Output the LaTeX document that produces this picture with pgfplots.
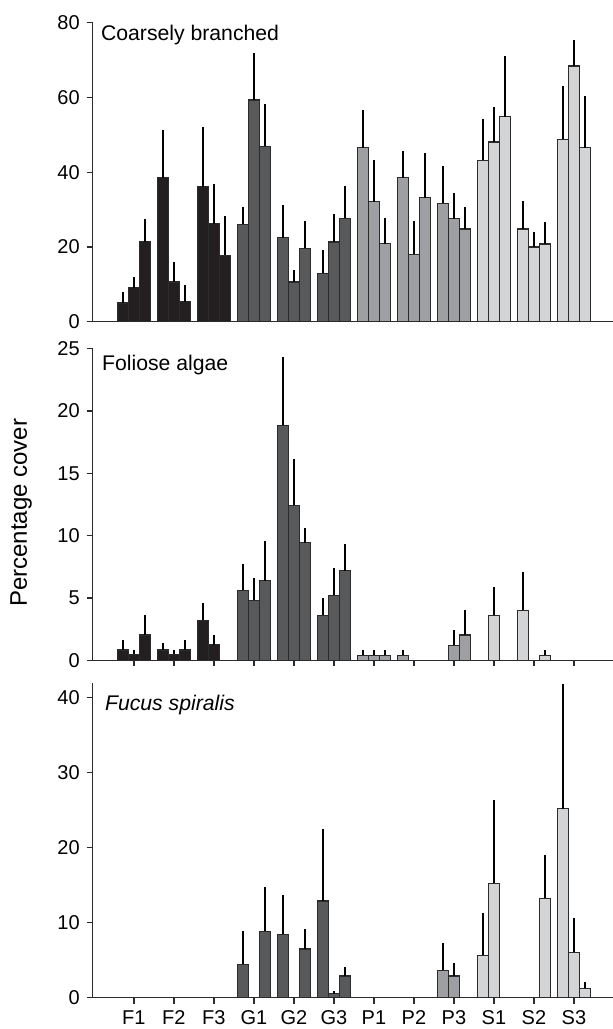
\documentclass[border=0pt]{standalone}
\usepackage{fontspec}
\setmainfont{Liberation Sans}
\usepackage{pgfplots}
\pgfplotsset{compat=1.18}
\usepackage{pgfplotstable}

\definecolor{cF}{HTML}{231F20}
\definecolor{cG}{HTML}{58595B}
\definecolor{cP}{HTML}{9D9FA2}
\definecolor{cS}{HTML}{D3D4D5}
\definecolor{axc}{HTML}{2B2B2B}

% Coarsely branched
\pgfplotstableread{
x a ea b eb c ec
0 5.0 2.9 9.1 2.8 21.4 6.0
1 38.5 12.9 10.6 5.5 5.4 4.3
2 36.1 16.0 26.2 10.6 17.8 10.4
3 26.1 4.7 59.3 12.7 46.9 11.3
4 22.5 8.8 10.6 3.2 19.6 7.4
5 12.9 6.2 21.3 7.6 27.7 8.5
6 46.5 10.2 32.1 11.2 20.9 6.8
7 38.5 7.2 18.0 9.0 33.2 12.0
8 31.7 10.0 27.6 6.7 24.8 6.0
9 43.2 11.1 48.1 9.4 54.8 16.3
10 24.8 7.6 20.0 4.0 20.8 5.8
11 48.8 14.3 68.4 6.9 46.5 13.9
}\cbtab

% Foliose algae
\pgfplotstableread{
x a ea b eb c ec
0 0.83 0.80 0.48 0.35 2.03 1.57
1 0.83 0.53 0.48 0.35 0.83 0.80
2 3.20 1.37 1.26 0.80 nan nan
3 5.60 2.10 4.80 1.80 6.40 3.17
4 18.85 5.45 12.43 3.72 9.44 1.16
5 3.60 1.37 5.20 2.18 7.20 2.10
6 0.40 0.43 0.40 0.43 0.40 0.43
7 0.40 0.43 nan nan nan nan
8 nan nan 1.20 1.23 2.03 2.01
9 nan nan 3.60 2.26 nan nan
10 4.00 3.06 nan nan 0.40 0.43
11 nan nan nan nan nan nan
}\fatab

% Fucus spiralis
\pgfplotstableread{
x a ea b eb c ec
0 nan nan nan nan nan nan
1 nan nan nan nan nan nan
2 nan nan nan nan nan nan
3 4.44 4.46 nan nan 8.84 5.96
4 8.44 5.26 nan nan 6.49 2.67
5 12.90 9.60 0.53 0.37 2.89 1.24
6 nan nan nan nan nan nan
7 nan nan nan nan nan nan
8 3.64 3.60 2.89 1.69 nan nan
9 5.64 5.60 15.24 11.12 nan nan
10 nan nan nan nan 13.24 5.76
11 25.20 16.60 6.04 4.63 1.24 0.85
}\fstab

\pgfplotsset{
  panel/.style={
    scale only axis, width=260pt, xmin=-1.03, xmax=11.97, ymin=0,
    axis x line=bottom, axis y line=left,
    axis line style={-, axc, line width=0.65pt},
    tick align=outside, major tick length=3pt,
    tick style={axc, line width=0.6pt},
    tick label style={font=\fontsize{10}{12}\selectfont},
    /pgf/number format/assume math mode=true,
    clip=false,
    unbounded coords=discard,
  },
  bs/.style={ybar, bar width=0.275, bar shift=0, draw=axc, line width=0.6pt, fill=#1,
    error bars/y dir=plus, error bars/y explicit, error bars/error mark=none,
    error bars/error bar style={line width=0.6pt, black}},
}
\tikzset{ttl/.style={anchor=north west, inner sep=0pt, font=\fontsize{10.6}{12}\selectfont}}

\newcommand\famplot[4]{%
  \addplot[bs=#2, restrict x to domain=#3:#4] table[x expr=\thisrow{x}-0.275,y=a,y error=ea]{#1};
  \addplot[bs=#2, restrict x to domain=#3:#4] table[x expr=\thisrow{x},y=b,y error=eb]{#1};
  \addplot[bs=#2, restrict x to domain=#3:#4] table[x expr=\thisrow{x}+0.275,y=c,y error=ec]{#1};
}

\begin{document}
\begin{tikzpicture}
\path[use as bounding box] (0,0) rectangle (306.5pt,514.5pt);

% Panel 1
\begin{axis}[panel, at={(46.35pt,353.65pt)}, anchor=south west,
  height=149.5pt, ymax=80, ytick={0,20,40,60,80}, xtick=\empty]
  \famplot{\cbtab}{cF}{-0.5}{2.5}
  \famplot{\cbtab}{cG}{2.5}{5.5}
  \famplot{\cbtab}{cP}{5.5}{8.5}
  \famplot{\cbtab}{cS}{8.5}{11.5}
  \node[ttl, xshift=4pt, yshift=-1pt] at (rel axis cs:0,1) {Coarsely branched};
\end{axis}

% Panel 2
\begin{axis}[panel, at={(46.35pt,184.35pt)}, anchor=south west,
  height=155.8pt, ymax=25, ytick={0,5,10,15,20,25},
  xtick={0,...,11}, xticklabels={}]
  \famplot{\fatab}{cF}{-0.5}{2.5}
  \famplot{\fatab}{cG}{2.5}{5.5}
  \famplot{\fatab}{cP}{5.5}{8.5}
  \famplot{\fatab}{cS}{8.5}{11.5}
  \node[ttl, xshift=4.5pt, yshift=-3pt] at (rel axis cs:0,1) {Foliose algae};
\end{axis}

% Panel 3
\begin{axis}[panel, at={(46.35pt,15.65pt)}, anchor=south west,
  height=157.5pt, ymax=42, ytick={0,10,20,30,40},
  xtick={0,...,11}, xticklabels={F1,F2,F3,G1,G2,G3,P1,P2,P3,S1,S2,S3}]
  \famplot{\fstab}{cF}{-0.5}{2.5}
  \famplot{\fstab}{cG}{2.5}{5.5}
  \famplot{\fstab}{cP}{5.5}{8.5}
  \famplot{\fstab}{cS}{8.5}{11.5}
  \node[ttl, xshift=6pt, yshift=-6pt] at (rel axis cs:0,1) {\itshape Fucus spiralis};
\end{axis}

\node[rotate=90, font=\fontsize{12}{14}\selectfont] at (10.5pt,258.1pt) {Percentage cover};
\end{tikzpicture}
\end{document}
